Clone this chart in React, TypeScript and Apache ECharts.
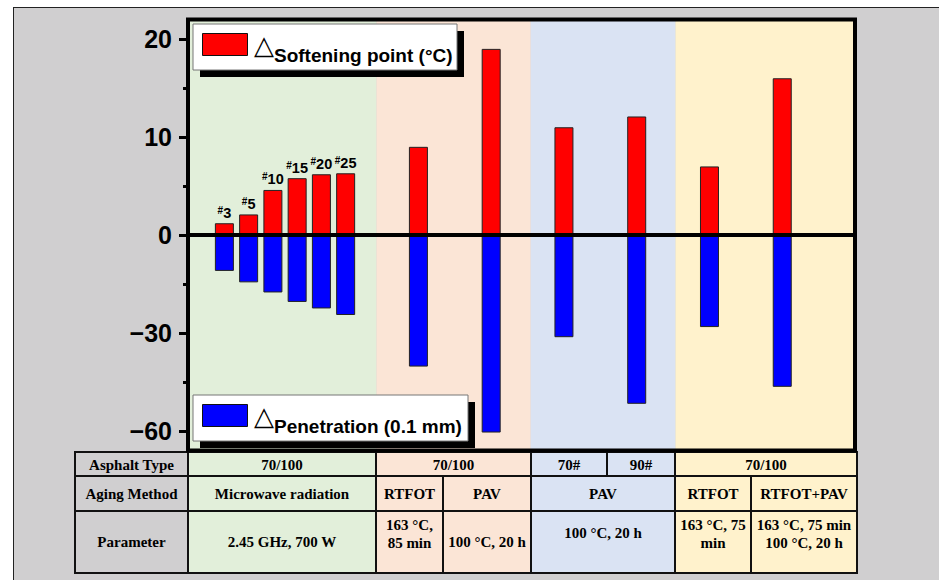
import React, { useEffect, useRef } from 'react';
import * as echarts from 'echarts';

// ---------- data ----------
const barNames = ['#3', '#5', '#10', '#15', '#20', '#25', 'RTFOT', 'PAV', '70# PAV', '90# PAV', 'RTFOT ', 'RTFOT+PAV'];
const barSlots = [1.5, 2.5, 3.5, 4.5, 5.5, 6.5, 9.5, 12.5, 15.5, 18.5, 21.5, 24.5];
const cycleLabels = ['3', '5', '10', '15', '20', '25'];
const softening = [1.2, 2.1, 4.6, 5.8, 6.2, 6.3, 9.0, 19.0, 11.0, 12.1, 7.0, 16.0];
const penetration = [-11.0, -14.5, -17.6, -20.5, -22.5, -24.5, -40.3, -60.5, -31.3, -51.7, -28.2, -46.5];
const softeningTicks = [0, 10, 20];
const penetrationTicks = [-30, -60];
const minorTicks = [-15, -5, 5, 15];
const regionStarts = [0, 7.77, 14.13, 20.1];
const regionEnds = [7.77, 14.13, 20.1, 27.5];

const tableRowHeaders = ['Asphalt Type', 'Aging Method', 'Parameter'];
const asphaltTypes = ['70/100', '70/100', '70#', '90#', '70/100'];
const agingMethods = ['Microwave radiation', 'RTFOT', 'PAV', 'PAV', 'RTFOT', 'RTFOT+PAV'];
const parameters = ['2.45 GHz, 700 W', '163 °C,\n85 min', '100 °C, 20 h', '100 °C, 20 h', '163 °C, 75\nmin', '163 °C, 75 min\n100 °C, 20 h'];

// ---------- styles ----------
const SANS = '"Liberation Sans", Arial, sans-serif';
const SERIF = '"Liberation Serif", "Times New Roman", serif';
const GRAY = '#d0cfd0';
const GREEN = '#e2efda';
const PINK = '#fbe5d6';
const BLUE = '#dae3f3';
const YELLOW = '#fff2cc';
const regionColors = [GREEN, PINK, BLUE, YELLOW];

const GRID = { left: 188, top: 19.5, width: 667, height: 431 };

function buildTable(): any[] {
  const colX = [75, 188, 376, 443, 531, 607, 675, 751, 857];
  const rowY = [452, 476, 511, 573];
  const fillFor = (c: number) => (c < 1 ? GRAY : c < 2 ? GREEN : c < 4 ? PINK : c < 6 ? BLUE : YELLOW);
  const spans = [
    [[0, 1], [1, 2], [2, 4], [4, 5], [5, 6], [6, 8]],
    [[0, 1], [1, 2], [2, 3], [3, 4], [4, 6], [6, 7], [7, 8]],
    [[0, 1], [1, 2], [2, 3], [3, 4], [4, 6], [6, 7], [7, 8]],
  ];
  const texts = [
    [tableRowHeaders[0], ...asphaltTypes],
    [tableRowHeaders[1], ...agingMethods],
    [tableRowHeaders[2], ...parameters],
  ];
  const rowTextY = [465, 494, 542];
  const els: any[] = [];
  spans.forEach((row, r) => {
    row.forEach(([a, b], k) => {
      const x0 = colX[a];
      const x1 = colX[b];
      els.push({
        type: 'rect',
        z: 100,
        shape: { x: x0, y: rowY[r], width: x1 - x0, height: rowY[r + 1] - rowY[r] },
        style: { fill: fillFor(a), stroke: '#111', lineWidth: 2 },
      });
      const t = texts[r][k];
      let ty = rowTextY[r];
      if (r === 2) {
        if (t.indexOf('\n') >= 0) ty = 534;
        else if (a === 4) ty = 533;
      }
      els.push({
        type: 'text',
        z: 101,
        x: (x0 + x1) / 2,
        y: ty,
        style: {
          text: t,
          fill: '#000',
          font: `bold 15px ${SERIF}`,
          align: 'center',
          verticalAlign: 'middle',
          lineHeight: 18,
        },
      });
    });
  });
  return els;
}

function legend(y: number, w: number, color: string, label: string): any[] {
  const x = 193;
  const h = 46;
  return [
    { type: 'rect', z: 110, shape: { x: x + 7, y: y + 7, width: w, height: h }, style: { fill: '#000' } },
    { type: 'rect', z: 111, shape: { x, y, width: w, height: h }, style: { fill: '#fff', stroke: '#777', lineWidth: 1 } },
    { type: 'rect', z: 112, shape: { x: x + 9.5, y: y + 9.5, width: 45, height: 22 }, style: { fill: color, stroke: '#111', lineWidth: 1 } },
    {
      type: 'text', z: 112, x: x + 71, y: y + 20.5,
      style: { text: '△', fill: '#000', font: `26px "DejaVu Sans", sans-serif`, align: 'center', verticalAlign: 'middle' },
    },
    {
      type: 'text', z: 112, x: x + 81, y: y + 31,
      style: { text: label, fill: '#000', font: `bold 19px ${SANS}`, align: 'left', verticalAlign: 'middle' },
    },
  ];
}

export default function App() {
  const ref = useRef<HTMLDivElement>(null);
  useEffect(() => {
    const chart = echarts.init(ref.current!, null, { renderer: 'svg' });
    const labelRich = {
      h: { fontSize: 10, fontWeight: 'bold', fontFamily: SANS, color: '#000', verticalAlign: 'top' },
      n: { fontSize: 14.5, fontWeight: 'bold', fontFamily: SANS, color: '#000' },
    };
    const option: any = {
      animation: false,
      backgroundColor: GRAY,
      grid: { left: GRID.left, top: GRID.top, width: GRID.width, height: GRID.height, containLabel: false },
      xAxis: {
        type: 'value',
        min: 0,
        max: 27.5,
        z: 10,
        axisLine: { show: true, onZero: true, onZeroAxisIndex: 0, lineStyle: { color: '#000', width: 4 } },
        axisTick: { show: false },
        axisLabel: { show: false },
        splitLine: { show: false },
      },
      yAxis: [
        {
          type: 'value', min: -22, max: 22, position: 'left',
          axisLine: { show: false },
          axisTick: { show: true, customValues: softeningTicks, length: 9, lineStyle: { color: '#000', width: 3 } },
          axisLabel: { show: true, customValues: softeningTicks, margin: 16, fontSize: 25, fontWeight: 'bold', fontFamily: SANS, color: '#000' },
          splitLine: { show: false },
        },
        {
          type: 'value', min: -66, max: 66, position: 'left',
          axisLine: { show: false },
          axisTick: { show: true, customValues: penetrationTicks, length: 9, lineStyle: { color: '#000', width: 3 } },
          axisLabel: {
            show: true, customValues: penetrationTicks, margin: 16, fontSize: 25, fontWeight: 'bold', fontFamily: SANS, color: '#000',
            formatter: (v: number) => String(v).replace('-', '\u2212'),
          },
          splitLine: { show: false },
        },
        {
          type: 'value', min: -22, max: 22, position: 'left',
          axisLine: { show: false },
          axisTick: { show: true, customValues: minorTicks, length: 5, lineStyle: { color: '#000', width: 3 } },
          axisLabel: { show: false },
          splitLine: { show: false },
        },
      ],
      series: [
        {
          type: 'custom',
          name: 'regions',
          xAxisIndex: 0,
          yAxisIndex: 2,
          z: 1,
          silent: true,
          data: regionStarts.map((s, i) => [s, regionEnds[i]]),
          renderItem: (params: any, api: any) => {
            const x0 = api.coord([api.value(0), 0])[0];
            const x1 = api.coord([api.value(1), 0])[0];
            const cs = params.coordSys;
            return {
              type: 'rect',
              shape: { x: x0, y: cs.y, width: x1 - x0, height: cs.height },
              style: { fill: regionColors[params.dataIndex] },
            };
          },
        },
        {
          type: 'bar',
          name: 'ΔSoftening point (°C)',
          xAxisIndex: 0,
          yAxisIndex: 0,
          barWidth: 19,
          barGap: '-100%',
          z: 2,
          itemStyle: { color: '#ff0000', borderColor: '#222', borderWidth: 1 },
          data: softening.map((v, i) => ({
            name: barNames[i],
            value: [barSlots[i], v],
            label: i < cycleLabels.length
              ? { show: true, position: 'top', distance: 3, formatter: `{h|#}{n|${cycleLabels[i]}}`, rich: labelRich }
              : { show: false },
          })),
        },
        {
          type: 'bar',
          name: 'ΔPenetration (0.1 mm)',
          xAxisIndex: 0,
          yAxisIndex: 1,
          barWidth: 19,
          barGap: '-100%',
          z: 2,
          itemStyle: { color: '#0000ff', borderColor: '#222', borderWidth: 1 },
          data: penetration.map((v, i) => ({ name: barNames[i], value: [barSlots[i], v] })),
        },
      ],
      graphic: [
        { type: 'rect', z: 200, shape: { x: 0, y: 0, width: 939, height: 7 }, style: { fill: '#fff' } },
        { type: 'rect', z: 200, shape: { x: 0, y: 0, width: 13, height: 580 }, style: { fill: '#fff' } },
        { type: 'line', z: 201, shape: { x1: 13, y1: 7.5, x2: 939, y2: 7.5 }, style: { stroke: '#222', lineWidth: 1 } },
        { type: 'line', z: 201, shape: { x1: 13.5, y1: 7, x2: 13.5, y2: 580 }, style: { stroke: '#222', lineWidth: 1 } },
        {
          type: 'rect', z: 105,
          shape: { x: GRID.left, y: GRID.top, width: GRID.width, height: GRID.height },
          style: { fill: 'none', stroke: '#000', lineWidth: 4 },
        },
        ...legend(24, 264, '#ff0000', 'Softening point (°C)'),
        ...legend(395, 275, '#0000ff', 'Penetration (0.1 mm)'),
        ...buildTable(),
      ],
    };
    chart.setOption(option);
    return () => chart.dispose();
  }, []);
  return <div ref={ref} style={{ position: 'fixed', left: 0, top: 0, width: 939, height: 580 }} />;
}
